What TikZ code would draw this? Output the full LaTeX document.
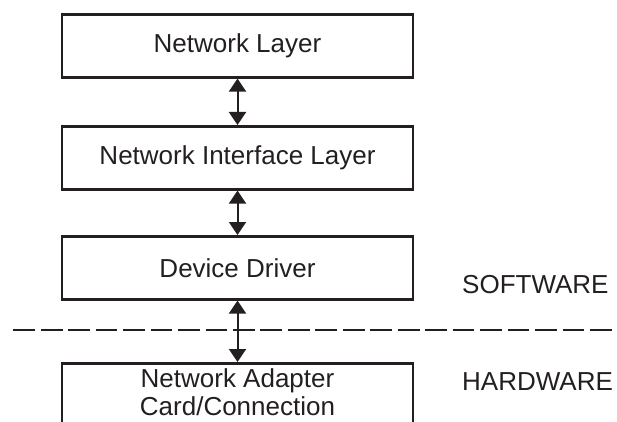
\documentclass[tikz,border=0pt]{standalone}
\usepackage{fontspec}
\setmainfont{Liberation Sans}
\usetikzlibrary{arrows.meta}
\definecolor{ink}{HTML}{231F20}
\tikzset{
  layerbox/.style={draw=ink, line width=2.6pt, minimum width=351pt, minimum height=63pt, inner sep=0pt, anchor=north, font=\fontsize{26}{28.5}\selectfont, text=ink},
  biarrow/.style={draw=ink, line width=2pt, {Triangle[width=17pt,length=13pt]}-{Triangle[width=17pt,length=13pt]}, shorten <=0pt, shorten >=0pt},
  sidelabel/.style={anchor=base west, inner sep=0pt, font=\fontsize{26}{28.5}\selectfont, text=ink},
  divider/.style={draw=ink, line width=2.6pt, dash pattern=on 21.76pt off 5.7pt}
}
\begin{document}
\begin{tikzpicture}[x=1pt, y=-1pt]
\useasboundingbox (0,0) rectangle (617,422);
\clip (0,0) rectangle (617,422);
\node[layerbox] (nl) at (237.5,13) {Network Layer};
\node[layerbox] (nil) at (237.5,125) {Network Interface Layer};
\node[layerbox] (dd) at (237.5,235) {Device Driver};
\node[layerbox, minimum height=90pt] (nac) at (237.5,362) {};
\node[anchor=base, align=center, inner sep=0pt, font=\fontsize{26}{28}\selectfont, text=ink] (nact) at (237.5,415) {Network Adapter\\Card/Connection};
\draw[biarrow] (nl.south) -- (nil.north);
\draw[biarrow] (nil.south) -- (dd.north);
\draw[biarrow] (dd.south) -- (nac.north);
\coordinate (dl) at (13.3,330);
\coordinate (dr) at (612,330);
\draw[divider] (dl) -- (dr);
\node[sidelabel] (sw) at (462,293) {SOFTWARE};
\node[sidelabel] (hw) at (462,390) {HARDWARE};
\end{tikzpicture}
\end{document}
